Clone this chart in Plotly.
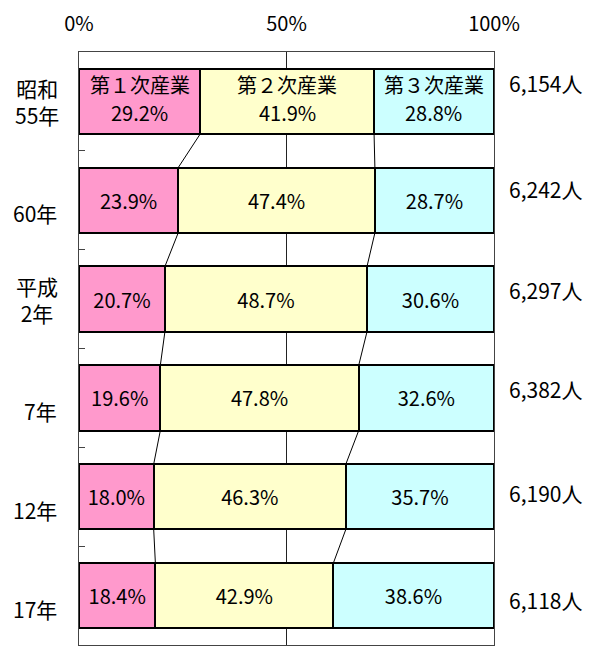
import plotly.graph_objects as go

categories = ["昭和<br>55年", "60年", "平成<br>2年", "7年", "12年", "17年"]
primary = [29.2, 23.9, 20.7, 19.6, 18.0, 18.4]
secondary = [41.9, 47.4, 48.7, 47.8, 46.3, 42.9]
tertiary = [28.8, 28.7, 30.6, 32.6, 35.7, 38.6]
totals = ["6,154人", "6,242人", "6,297人", "6,382人", "6,190人", "6,118人"]
series_names = ["第１次産業", "第２次産業", "第３次産業"]
colors = ["#FF99CC", "#FFFFCC", "#CCFFFF"]

FONT = "Noto Sans CJK JP"
FS = 20
ypos = list(range(len(categories)))
BW = 0.66

fig = go.Figure()
annotations = []
series = [primary, secondary, tertiary]
start = [0.0] * len(categories)
for k, (vals, name, col) in enumerate(zip(series, series_names, colors)):
    texts = [("" if i == 0 else f"{v:.1f}%") for i, v in enumerate(vals)]
    fig.add_trace(go.Bar(
        x=vals, y=ypos, orientation="h", name=name,
        marker=dict(color=col, line=dict(color="black", width=2)),
        width=BW, text=texts, textposition="inside", insidetextanchor="middle",
        textangle=0,
        textfont=dict(family=FONT, size=FS, color="black"),
        hoverinfo="skip",
    ))
    # first row: series name + value as two separate texts
    mid = start[0] + vals[0] / 2
    annotations.append(dict(x=mid, y=0, xref="x", yref="y", text=name,
                            showarrow=False, yshift=17,
                            font=dict(family=FONT, size=FS, color="black")))
    annotations.append(dict(x=mid, y=0, xref="x", yref="y", text=f"{vals[0]:.1f}%",
                            showarrow=False, yshift=-11,
                            font=dict(family=FONT, size=FS, color="black")))
    start = [s + v for s, v in zip(start, vals)]

# series (connector) lines
cum1 = primary
cum2 = [a + b for a, b in zip(primary, secondary)]
for cum in (cum1, cum2):
    for i in range(len(cum) - 1):
        fig.add_trace(go.Scatter(
            x=[cum[i], cum[i + 1]], y=[i + BW / 2, i + 1 - BW / 2],
            mode="lines", line=dict(color="black", width=1),
            showlegend=False, hoverinfo="skip",
        ))

for i, c in enumerate(categories):
    two_line = "<br>" in c
    annotations.append(dict(
        x=-0.1012 if two_line else -0.0482, xref="paper", y=i, yref="y",
        text=c, showarrow=False,
        xanchor="center" if two_line else "right", align="center",
        yshift=0 if two_line else -13,
        font=dict(family=FONT, size=21, color="black"),
    ))
tot_shift = [18, 11, 9, 9, 4, -4]
for i, t in enumerate(totals):
    annotations.append(dict(
        x=1.123, xref="paper", y=i, yref="y", text=t, showarrow=False,
        xanchor="center", yshift=tot_shift[i],
        font=dict(family=FONT, size=21, color="black"),
    ))

fig.update_layout(
    width=593, height=638,
    margin=dict(l=71, r=107, t=40, b=0),
    barmode="stack", bargap=0.34,
    showlegend=False,
    plot_bgcolor="white", paper_bgcolor="white",
    annotations=annotations,
    xaxis=dict(
        side="top", range=[0, 100], tickvals=[0, 50, 100],
        ticktext=["0%", "50%", "100%"],
        showgrid=True, gridcolor="#222", gridwidth=1,
        showline=True, linecolor="#444", linewidth=1, mirror=True,
        ticks="", zeroline=False, ticklabelstandoff=12,
        tickfont=dict(family=FONT, size=FS, color="black"),
        fixedrange=True,
    ),
    yaxis=dict(
        range=[5.5, -0.5], tickvals=[0.5, 1.5, 2.5, 3.5, 4.5],
        showticklabels=False, ticks="inside", ticklen=6, tickcolor="#444",
        showgrid=False, zeroline=False,
        showline=True, linecolor="#444", linewidth=1, mirror=True,
        fixedrange=True,
    ),
)

fig.write_html("out.html")
